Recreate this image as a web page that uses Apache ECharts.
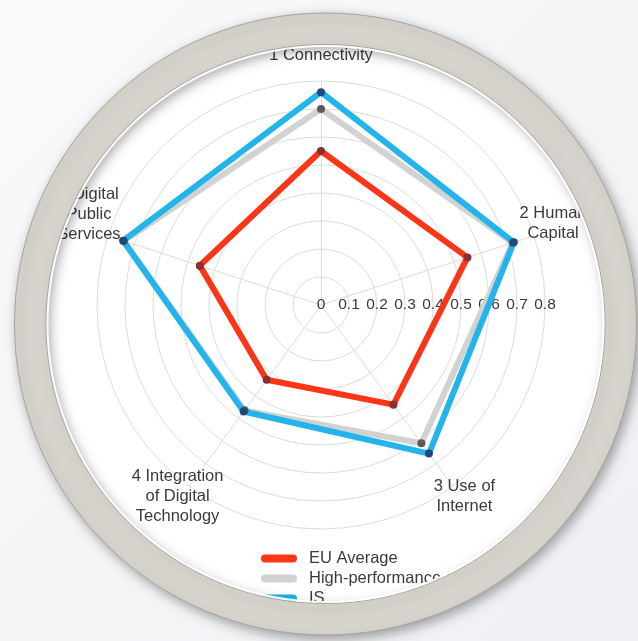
<!DOCTYPE html>
<html lang="en">
  <head>
    <meta charset="UTF-8" />
    <title>DESI radar</title>
    <script src="https://cdn.jsdelivr.net/npm/echarts@6/dist/echarts.min.js"></script>
  </head>
  <style>
    html,
    body {
      margin: 0;
      padding: 0;
      width: 100%;
      height: 100%;
      background: #fff;
    }
    #echart {
      width: 638px;
      height: 641px;
    }
  </style>
  <body>
    <div id="echart"></div>
  </body>
  <script>
    // dimensions in natural order, clockwise from the top
    const dimensions = [
      "1 Connectivity",
      "2 Human\nCapital",
      "3 Use of\nInternet",
      "4 Integration\nof Digital\nTechnology",
      "5 Digital\nPublic\nServices",
    ];
    const euAverage = [0.55, 0.55, 0.44, 0.33, 0.455];
    const highPerf = [0.7, 0.72, 0.61, 0.465, 0.74];
    const isValues = [0.76, 0.724, 0.656, 0.47, 0.743];
    const radialTicks = [0, 0.1, 0.2, 0.3, 0.4, 0.5, 0.6, 0.7, 0.8];
    const seriesNames = ["EU Average", "High-performance cluster", "IS"];

    // echarts lays radar indicators out counter-clockwise, so flip the order
    const clockwise = (arr) => [arr[0]].concat(arr.slice(1).reverse());

    const cx = 321,
      cy = 305,
      R = 224;
    const tickMax = radialTicks[radialTicks.length - 1];

    const chart = echarts.init(document.getElementById("echart"));

    const lineColors = ["#fb3517", "#d2d2d2", "#22b4ea"];
    const dotColors = ["#8a3030", "#5a5a5a", "#1c4a80"];
    const values = [euAverage, highPerf, isValues];

    // decorative frame round the chart
    const fx = 325.5,
      fy = 324;

    var option = {
      backgroundColor: "#fff",
      textStyle: { fontFamily: "Liberation Sans, Arial, sans-serif" },
      legend: {
        orient: "vertical",
        left: 256,
        top: 545,
        itemWidth: 36,
        itemHeight: 8,
        itemGap: 3,
        icon: "path://M4,0 L32,0 A4,4 0 0 1 32,8 L4,8 A4,4 0 0 1 4,0 Z",
        textStyle: {
          fontSize: 16.5,
          color: "#3a3a3a",
          padding: [0, 0, 0, 7],
        },
        data: seriesNames.map((n, i) => ({
          name: n,
          itemStyle: { color: lineColors[i] },
        })),
      },
      radar: {
        center: [cx, cy],
        radius: R,
        startAngle: 90,
        shape: "circle",
        splitNumber: radialTicks.length - 1,
        nameGap: 20,
        indicator: clockwise(dimensions).map((d) => ({
          name: d,
          min: 0,
          max: tickMax,
        })),
        axisName: {
          color: "#3a3a3a",
          fontSize: 16.5,
          lineHeight: 20,
          align: "center",
          verticalAlign: "middle",
          padding: [0, 0, 12, 0],
          formatter: (name) => (name === dimensions[4] ? name + "\n{sp| }" : name),
          rich: { sp: { lineHeight: 18, fontSize: 2 } },
        },
        splitLine: { lineStyle: { color: "#dcdcdc", width: 1 } },
        splitArea: { show: false },
        axisLine: { lineStyle: { color: "#dcdcdc" } },
        axisTick: { show: false },
        axisLabel: { show: false },
      },
      // polar used only to print the radial scale to the right of the centre
      polar: { center: [cx, cy], radius: R },
      angleAxis: { show: false, startAngle: 0, min: 0, max: 360 },
      radiusAxis: {
        min: 0,
        max: tickMax,
        interval: radialTicks[1] - radialTicks[0],
        axisLine: { show: false },
        axisTick: { show: false },
        splitLine: { show: false },
        axisLabel: {
          margin: 0,
          align: "center",
          verticalAlign: "middle",
          fontSize: 15.5,
          color: "#3a3a3a",
          formatter: (v) => String(+v.toFixed(1)),
        },
      },
      series: [
        {
          type: "radar",
          silent: true,
          data: values.map((v, i) => ({
            name: seriesNames[i],
            value: clockwise(v),
            symbol: "circle",
            symbolSize: 8,
            lineStyle: { color: lineColors[i], width: 6 },
            itemStyle: { color: dotColors[i] },
          })),
        },
      ],
      graphic: {
        elements: [
          {
            type: "ring",
            silent: true,
            z: 100,
            shape: { cx: fx, cy: fy, r: 700, r0: 310 },
            style: {
              fill: new echarts.graphic.LinearGradient(0, 0, 1, 1, [
                { offset: 0, color: "#ffffff" },
                { offset: 0.5, color: "#f4f5f7" },
                { offset: 1, color: "#e8eaee" },
              ]),
            },
          },
          {
            type: "ring",
            silent: true,
            z: 101,
            shape: { cx: fx, cy: fy, r: 311, r0: 279.5 },
            style: {
              fill: "#d7d4cd",
              stroke: "#a8a49c",
              lineWidth: 1,
              shadowBlur: 12,
              shadowColor: "rgba(0,0,0,0.35)",
              shadowOffsetX: 3,
              shadowOffsetY: 4,
            },
          },
          {
            type: "circle",
            silent: true,
            z: 102,
            shape: { cx: fx, cy: fy, r: 278 },
            style: {
              fill: null,
              stroke: "rgba(255,255,255,0.95)",
              lineWidth: 2,
            },
          },
        ],
      },
    };

    chart.setOption(option);
  </script>
</html>
